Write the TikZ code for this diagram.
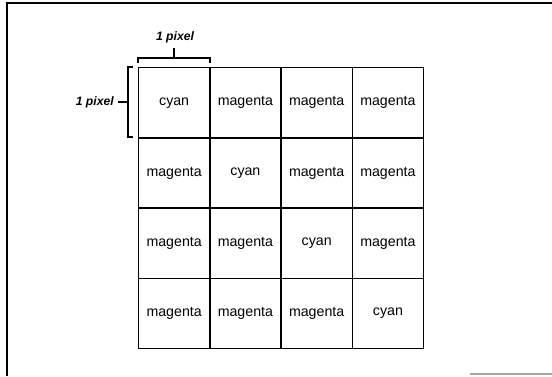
\documentclass[tikz,border=0pt]{standalone}
\usepackage{fontspec}
\setmainfont{Liberation Sans}
\begin{document}
\begin{tikzpicture}[x=1pt,y=-1pt,
  cell/.style={draw,line width=1.3pt,minimum width=71pt,minimum height=70pt,inner sep=0pt,anchor=north west,font=\fontsize{14.2}{16}\selectfont},
  lbl/.style={font=\fontsize{12.2}{14}\selectfont\bfseries\itshape,inner sep=0pt},
  brk/.style={line width=1.1pt}]
\useasboundingbox (0,0) rectangle (552,376);
\draw[line width=1.8pt] (7,376) -- (7,3) -- (552,3);
\draw[line width=1.2pt,black!35] (470,374) -- (552,374);
% grid
\node[cell] (c11) at (138,67) {cyan};
\node[cell] (c12) at (209.25,67) {magenta};
\node[cell] (c13) at (280.5,67) {magenta};
\node[cell] (c14) at (351.75,67) {magenta};
\node[cell] (c21) at (138,137.25) {magenta};
\node[cell] (c22) at (209.25,137.25) {cyan};
\node[cell] (c23) at (280.5,137.25) {magenta};
\node[cell] (c24) at (351.75,137.25) {magenta};
\node[cell] (c31) at (138,207.5) {magenta};
\node[cell] (c32) at (209.25,207.5) {magenta};
\node[cell] (c33) at (280.5,207.5) {cyan};
\node[cell] (c34) at (351.75,207.5) {magenta};
\node[cell] (c41) at (138,277.75) {magenta};
\node[cell] (c42) at (209.25,277.75) {magenta};
\node[cell] (c43) at (280.5,277.75) {magenta};
\node[cell] (c44) at (351.75,277.75) {cyan};
% top bracket
\coordinate (tl) at (138,62.5);
\coordinate (tr) at (210,62.5);
\draw[brk] (tl) -- ++(0,-4.5) -| (tr);
\draw[brk] (174,58) -- (174,48);
\node[lbl] (tlab) at (175,37) {1 pixel};
% left bracket
\coordinate (lt) at (133,67);
\coordinate (lb) at (133,137);
\draw[brk] (lt) -- ++(-5,0) |- (lb);
\draw[brk] (128,102) -- (118,102);
\node[lbl,anchor=east] (llab) at (114,102) {1 pixel};
\end{tikzpicture}
\end{document}
